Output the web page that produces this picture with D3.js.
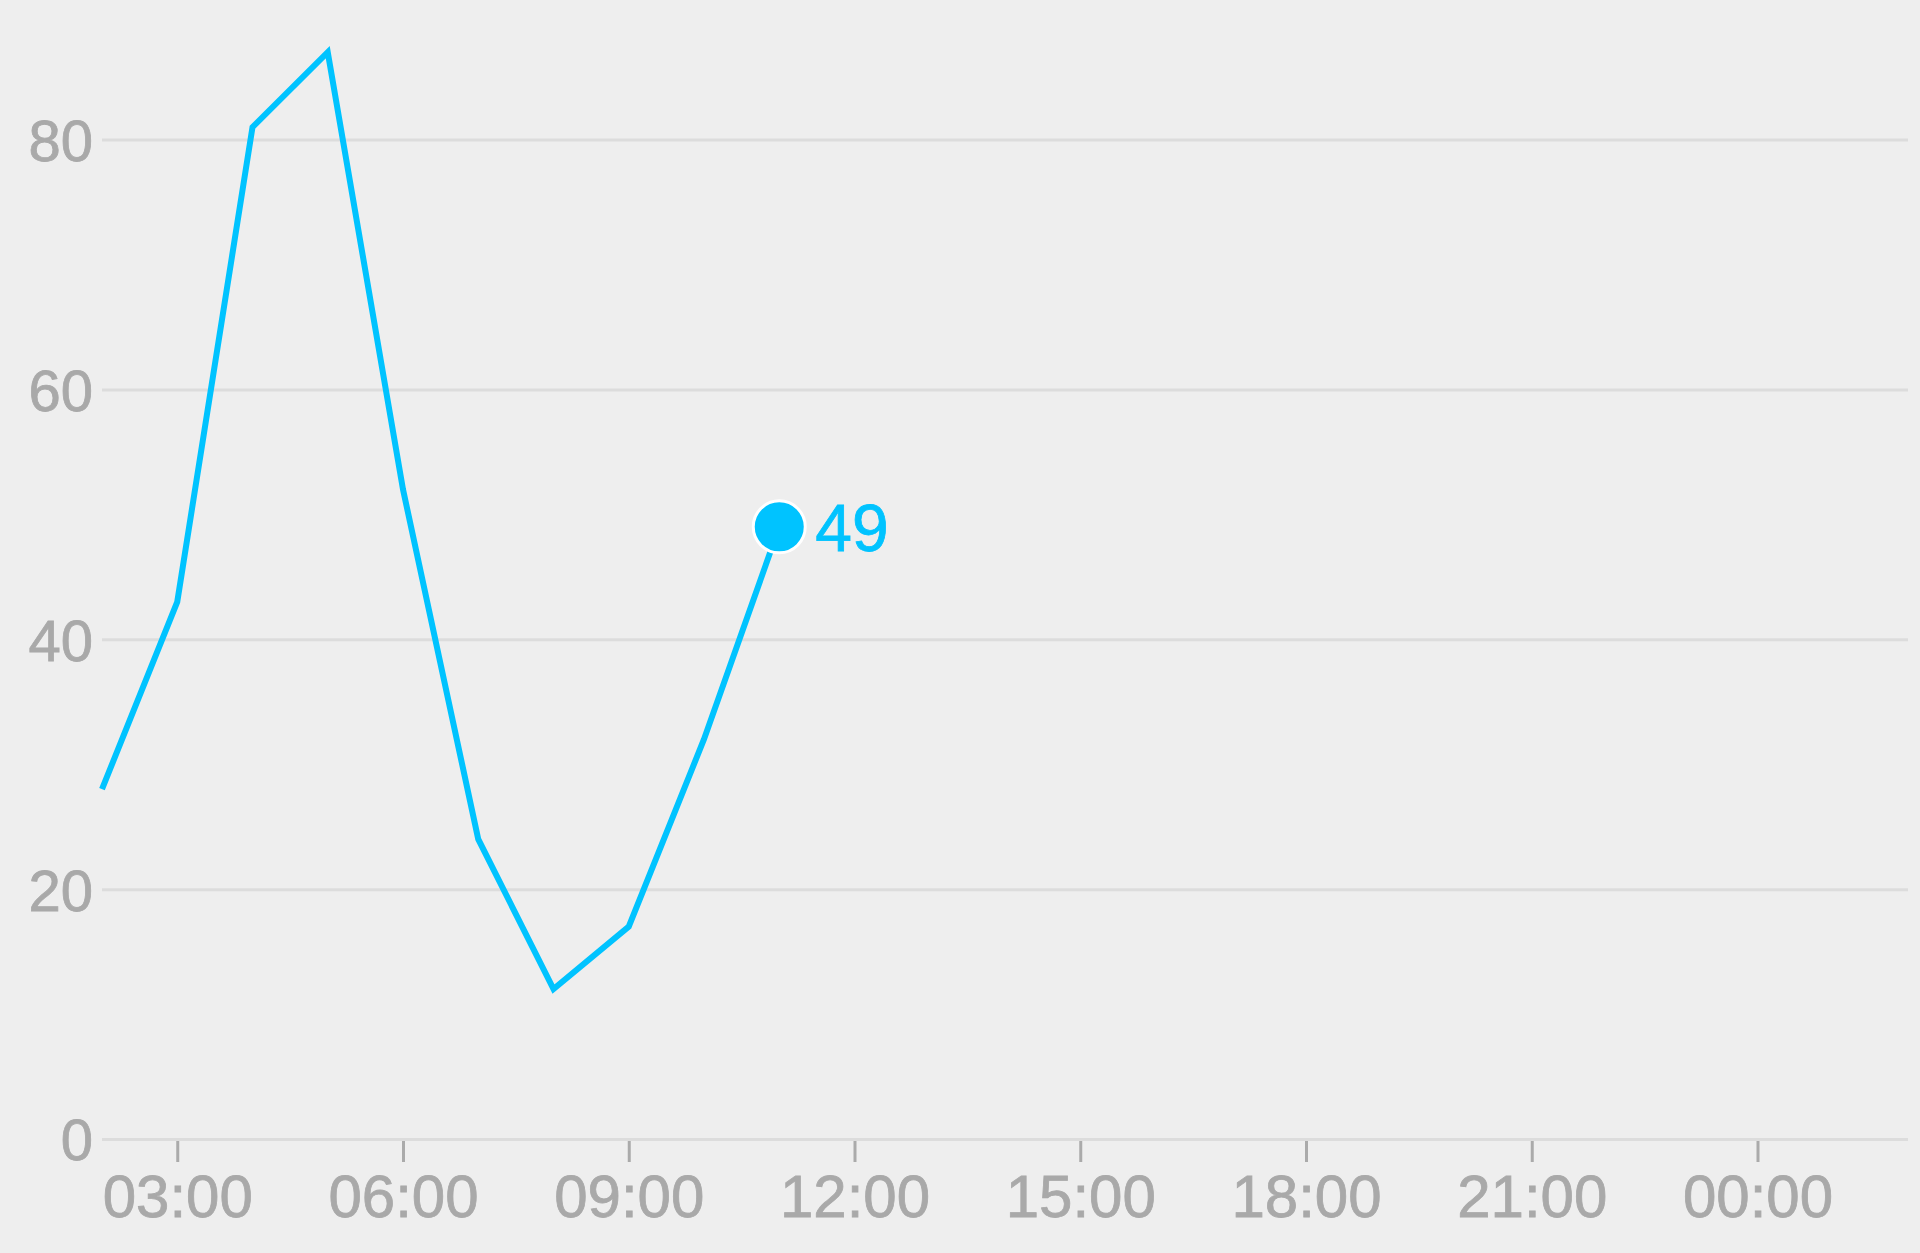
<!DOCTYPE html>
<html>
<head>
<meta charset="utf-8">
<script src="https://cdn.jsdelivr.net/npm/d3@7"></script>
<style>
  html, body { margin: 0; padding: 0; background: #eeeeee; }
  svg { display: block; }
</style>
</head>
<body>
<div id="chart"></div>
<script>
// Hourly readings
const hours = ["02:00", "03:00", "04:00", "05:00", "06:00", "07:00", "08:00", "09:00", "10:00", "11:00"];
const values = [28, 43, 81, 87, 52, 24, 12, 17, 32, 49];
const yTicks = [0, 20, 40, 60, 80];
const domainStart = "2024-01-01 02:00";
const domainEnd = "2024-01-02 02:00";

const width = 1920;
const height = 1253;
const margin = { top: 139.6, right: 12, bottom: 114, left: 102 };

const parseHour = d3.timeParse("%Y-%m-%d %H:%M");
const data = hours.map((h, i) => ({ time: parseHour("2024-01-01 " + h), value: values[i] }));

const svg = d3.select("#chart").append("svg")
    .attr("width", width)
    .attr("height", height)
    .style("background", "#eeeeee")
    .style("font-family", "'Liberation Sans', Arial, Helvetica, sans-serif");

const x = d3.scaleTime()
    .domain([parseHour(domainStart), parseHour(domainEnd)])
    .range([margin.left, width - margin.right]);

const y = d3.scaleLinear()
    .domain([0, 80])
    .range([height - margin.bottom, margin.top]);

// Gridlines and y labels
const yAxis = d3.axisLeft(y)
    .tickValues(yTicks)
    .tickSizeInner(-(width - margin.right - margin.left))
    .tickSizeOuter(0)
    .tickPadding(9);

svg.append("g")
    .attr("transform", `translate(${margin.left}, 0)`)
    .call(yAxis)
    .call(g => g.select(".domain").remove())
    .call(g => g.selectAll(".tick line")
        .attr("stroke", "#dcdcdc")
        .attr("stroke-width", 3))
    .call(g => g.selectAll(".tick text")
        .attr("fill", "#a9a9a9")
        .attr("stroke", "#a9a9a9")
        .attr("stroke-width", 0.8)
        .attr("font-size", 58)
        .attr("dy", "0.36em"));

// X axis ticks every 3 hours
const xAxis = d3.axisBottom(x)
    .ticks(d3.timeHour.every(3))
    .tickFormat(d3.timeFormat("%H:%M"))
    .tickSizeInner(21)
    .tickSizeOuter(0)
    .tickPadding(12);

svg.append("g")
    .attr("transform", `translate(0, ${y(0) + 2})`)
    .call(xAxis)
    .call(g => g.select(".domain").remove())
    .call(g => g.selectAll(".tick line")
        .attr("stroke", "#aaaaaa")
        .attr("stroke-width", 3))
    .call(g => g.selectAll(".tick text")
        .attr("fill", "#a9a9a9")
        .attr("stroke", "#a9a9a9")
        .attr("stroke-width", 0.8)
        .attr("font-size", 60));

// Line
const line = d3.line()
    .x(d => x(d.time))
    .y(d => y(d.value));

svg.append("path")
    .datum(data)
    .attr("fill", "none")
    .attr("stroke", "#00c3ff")
    .attr("stroke-width", 6)
    .attr("stroke-linejoin", "miter")
    .attr("d", line);

// Last point marker and label
const last = data[data.length - 1];

svg.append("circle")
    .attr("cx", x(last.time))
    .attr("cy", y(last.value))
    .attr("r", 26)
    .attr("fill", "#00c3ff")
    .attr("stroke", "#ffffff")
    .attr("stroke-width", 3);

svg.append("text")
    .attr("x", x(last.time) + 36)
    .attr("y", y(last.value))
    .attr("dy", "0.36em")
    .attr("fill", "#00c3ff")
    .attr("stroke", "#00c3ff")
    .attr("stroke-width", 0.8)
    .attr("font-size", 66)
    .text(last.value);
</script>
</body>
</html>
